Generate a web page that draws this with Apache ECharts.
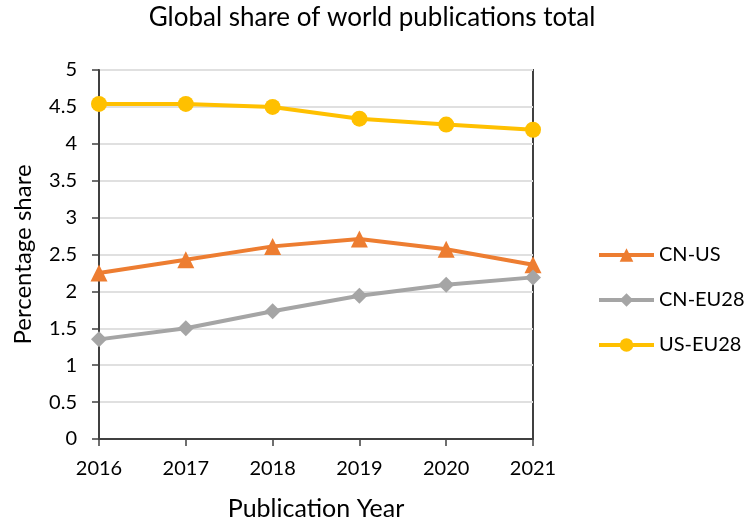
<!DOCTYPE html>
<html>
<head>
<meta charset="utf-8">
<script src="https://cdn.jsdelivr.net/npm/echarts@6/dist/echarts.min.js"></script>
<style>
  html, body { margin: 0; padding: 0; background: #fff; }
  #chart { width: 744px; height: 521px; }
</style>
</head>
<body>
<div id="chart"></div>
<script>
// 数据
var years = ['2016', '2017', '2018', '2019', '2020', '2021'];
var cnUs = [2.25, 2.43, 2.61, 2.71, 2.57, 2.36];
var cnEu28 = [1.35, 1.50, 1.73, 1.94, 2.09, 2.19];
var usEu28 = [4.54, 4.54, 4.50, 4.34, 4.26, 4.19];

var font = 'Lato, "Open Sans", sans-serif';
var myChart = echarts.init(document.getElementById('chart'));
myChart.setOption({
  animation: false,
  textStyle: { fontFamily: font },
  title: {
    text: 'Global share of world publications total',
    left: 'center',
    top: 5,
    padding: 0,
    textStyle: { fontFamily: font, fontSize: 26, fontWeight: 'normal', color: '#000' }
  },
  legend: {
    orient: 'vertical',
    left: 597,
    top: 245,
    padding: 0,
    itemWidth: 55,
    itemHeight: 17,
    itemGap: 25,
    lineStyle: { width: 4 },
    textStyle: { fontFamily: font, fontSize: 20, color: '#000' },
    data: ['CN-US', 'CN-EU28', 'US-EU28']
  },
  grid: {
    left: 99,
    right: 211,
    top: 70,
    bottom: 82,
    containLabel: false,
    outerBoundsMode: 'none',
    show: true,
    borderColor: '#404040',
    borderWidth: 2
  },
  xAxis: {
    type: 'category',
    data: years,
    boundaryGap: false,
    name: 'Publication Year',
    nameLocation: 'middle',
    nameGap: 57,
    nameTextStyle: { fontFamily: font, fontSize: 25, color: '#000' },
    axisLine: { lineStyle: { color: '#404040', width: 2 } },
    axisTick: { show: true, alignWithLabel: true, length: 7, lineStyle: { color: '#404040', width: 1.5 } },
    axisLabel: { fontFamily: font, fontSize: 20, color: '#000', margin: 20 },
    splitLine: { show: false }
  },
  yAxis: {
    type: 'value',
    min: 0,
    max: 5,
    interval: 0.5,
    name: 'Percentage share',
    nameLocation: 'middle',
    nameGap: 64,
    nameTextStyle: { fontFamily: font, fontSize: 24, color: '#000' },
    axisLine: { show: true, lineStyle: { color: '#404040', width: 2 } },
    axisTick: { show: true, length: 7, lineStyle: { color: '#404040', width: 1.5 } },
    axisLabel: { fontFamily: font, fontSize: 20, color: '#000', margin: 22 },
    splitLine: { show: true, lineStyle: { color: '#e0e0e0', width: 2 } }
  },
  series: [
    {
      name: 'CN-US',
      type: 'line',
      data: cnUs,
      symbol: 'triangle',
      symbolSize: 17,
      lineStyle: { color: '#ed7d31', width: 4 },
      itemStyle: { color: '#ed7d31' }
    },
    {
      name: 'CN-EU28',
      type: 'line',
      data: cnEu28,
      symbol: 'diamond',
      symbolSize: 16,
      lineStyle: { color: '#a5a5a5', width: 4 },
      itemStyle: { color: '#a5a5a5' }
    },
    {
      name: 'US-EU28',
      type: 'line',
      data: usEu28,
      symbol: 'circle',
      symbolSize: 16,
      lineStyle: { color: '#ffc000', width: 4 },
      itemStyle: { color: '#ffc000' }
    }
  ]
});
</script>
</body>
</html>
